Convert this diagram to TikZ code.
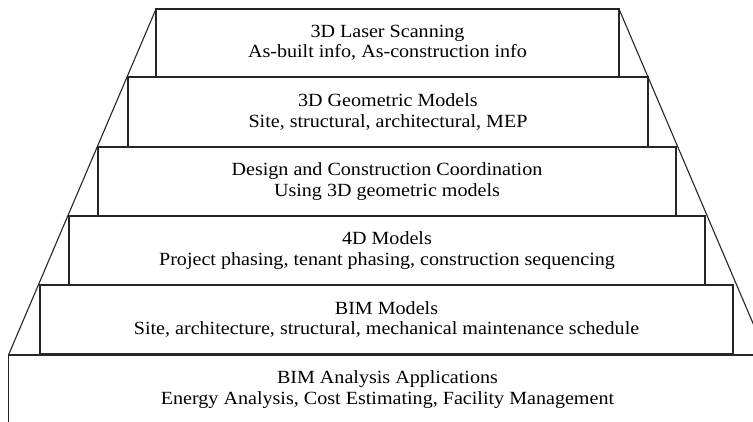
\documentclass[tikz,border=0pt]{standalone}
\usepackage{fontspec}
\setmainfont[FakeStretch=1.08]{Liberation Serif}
\begin{document}
\begin{tikzpicture}[x=1pt,y=-1pt,
  tier/.style={draw=black!85, line width=1.2pt, fill=white, align=center,
    inner sep=0pt, outer sep=0pt, minimum height=69pt,
    font=\fontsize{18.6}{20.5}\selectfont},
  edge/.style={draw=black!85, line width=1.1pt}]
\clip (0,0) rectangle (753,421);
\fill[white] (0,0) rectangle (753,421);
\node[tier, minimum width=758pt] (b6) at (387.5,389.5) {BIM Analysis Applications\\Energy Analysis, Cost Estimating, Facility Management};
\node[tier, minimum width=693pt] (b5) at (386.5,319.5) {BIM Models\\Site, architecture, structural, mechanical maintenance schedule};
\node[tier, minimum width=636pt] (b4) at (387,250.5) {4D Models\\Project phasing, tenant phasing, construction sequencing};
\node[tier, minimum width=578pt] (b3) at (387,181.5) {Design and Construction Coordination\\Using 3D geometric models};
\node[tier, minimum width=520pt, minimum height=70pt] (b2) at (388,112) {3D Geometric Models\\Site, structural, architectural, MEP};
\node[tier, minimum width=463pt, minimum height=68pt] (b1) at (387.5,43) {3D Laser Scanning\\As-built info, As-construction info};
\draw[edge] (b1.north west) -- (b6.north west);
\draw[edge] (b1.north east) -- (b6.north east);
\end{tikzpicture}
\end{document}
